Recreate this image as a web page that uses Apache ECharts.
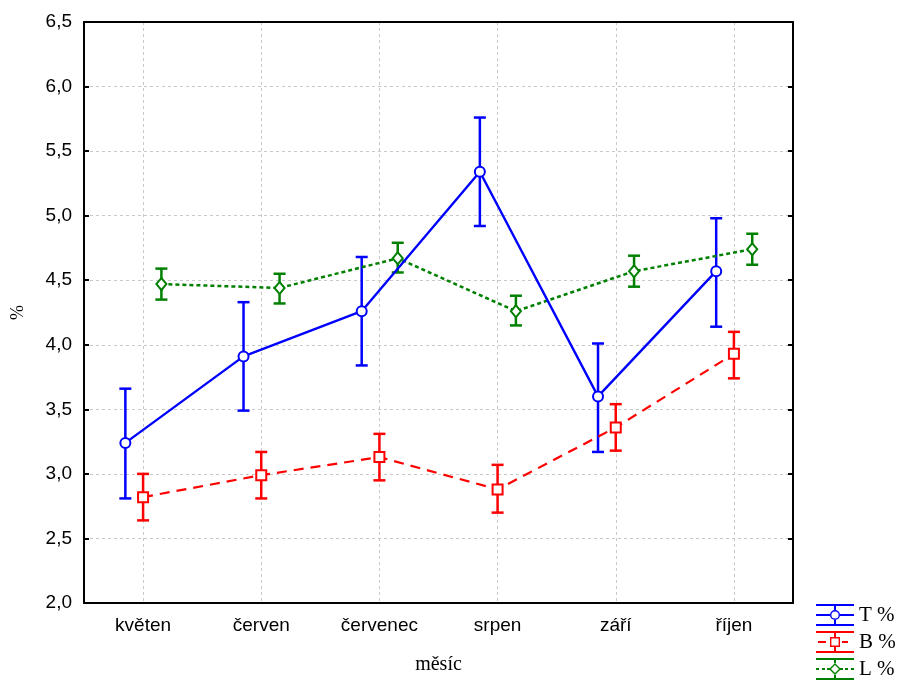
<!DOCTYPE html>
<html>
<head>
<meta charset="utf-8">
<script src="https://cdn.jsdelivr.net/npm/echarts@6/dist/echarts.min.js"></script>
<style>
  html, body { margin: 0; padding: 0; background: #fff; }
  #chart { width: 904px; height: 681px; }
</style>
</head>
<body>
<div id="chart"></div>
<script>
// měsíce a hodnoty (průměr, dolní a horní mez)
const months = ['květen', 'červen', 'červenec', 'srpen', 'září', 'říjen'];

const tMean = [3.24, 3.91, 4.26, 5.34, 3.60, 4.57];
const tLow  = [2.81, 3.49, 3.84, 4.92, 3.17, 4.14];
const tHigh = [3.66, 4.33, 4.68, 5.76, 4.01, 4.98];

const bMean = [2.82, 2.99, 3.13, 2.88, 3.36, 3.93];
const bLow  = [2.64, 2.81, 2.95, 2.70, 3.18, 3.74];
const bHigh = [3.00, 3.17, 3.31, 3.07, 3.54, 4.10];

const lMean = [4.47, 4.44, 4.67, 4.26, 4.57, 4.74];
const lLow  = [4.35, 4.32, 4.56, 4.15, 4.45, 4.62];
const lHigh = [4.59, 4.55, 4.79, 4.38, 4.69, 4.86];

const yTicks = { min: 2.0, max: 6.5, step: 0.5 };

// posun řad uvnitř kategorie (v jednotkách kategorie)
const shiftT = -0.15, shiftB = 0, shiftL = 0.155;

const pts = (vals, shift) => vals.map((v, i) => [i + shift, v]);
const bars = (lo, hi, shift) => lo.map((v, i) => [i + shift, v, hi[i]]);

function errorBarItem(params, api) {
  const x = api.value(0);
  const lo = api.coord([x, api.value(1)]);
  const hi = api.coord([x, api.value(2)]);
  const half = 6;
  const style = { stroke: api.visual('color'), lineWidth: 2.5, fill: null };
  return {
    type: 'group',
    children: [
      { type: 'line', shape: { x1: hi[0], y1: hi[1], x2: lo[0], y2: lo[1] }, style },
      { type: 'line', shape: { x1: hi[0] - half, y1: hi[1], x2: hi[0] + half, y2: hi[1] }, style },
      { type: 'line', shape: { x1: lo[0] - half, y1: lo[1], x2: lo[0] + half, y2: lo[1] }, style }
    ]
  };
}

// ikony legendy: chybová úsečka + značka
const iconT = 'path://M0,0H38V2H0Z M0,20H38V22H0Z M18,0H20V6H18Z M18,16H20V22H18Z M0,10H14V12H0Z M24,10H38V12H24Z ' +
  'M14,11A5,5 0 1,0 24,11A5,5 0 1,0 14,11Z M15.4,11A3.6,3.6 0 1,1 22.6,11A3.6,3.6 0 1,1 15.4,11Z';
const iconB = 'path://M0,0H38V2H0Z M0,20H38V22H0Z M18,0H20V6H18Z M18,16H20V22H18Z M2,10H10V12H2Z M26,10H32V12H26Z ' +
  'M14,6H24V16H14Z M15.4,7.4V14.6H22.6V7.4Z';
const iconL = 'path://M0,0H38V2H0Z M0,20H38V22H0Z M18,0H20V5H18Z M18,17H20V22H18Z ' +
  'M0,10H3V12H0Z M6,10H9V12H6Z M11,10H13.5V12H11Z M24.5,10H27V12H24.5Z M29,10H32V12H29Z M35,10H38V12H35Z ' +
  'M19,5L25,11L19,17L13,11Z M19,7L15,11L19,15L23,11Z';

const blue = '#0000ff', red = '#ff0000', green = '#008000';
const gridColor = '#c8c8c8';
const sans = 'Liberation Sans', serif = 'Liberation Serif';

const chart = echarts.init(document.getElementById('chart'));

const option = {
  backgroundColor: '#fff',
  animation: false,
  grid: { left: 84, right: 111, top: 22, bottom: 78, containLabel: false, outerBoundsMode: 'none' },
  legend: {
    orient: 'vertical',
    left: 816,
    top: 604,
    height: 110,
    padding: 0,
    itemGap: 5,
    itemWidth: 38,
    itemHeight: 22,
    itemStyle: { borderWidth: 0 },
    textStyle: { fontFamily: serif, fontSize: 21, color: '#000' },
    selectedMode: false,
    data: [
      { name: 'T %', icon: iconT, itemStyle: { color: blue } },
      { name: 'B %', icon: iconB, itemStyle: { color: red } },
      { name: 'L %', icon: iconL, itemStyle: { color: green } }
    ]
  },
  xAxis: [
    {
      type: 'category',
      data: months,
      position: 'bottom',
      boundaryGap: true,
      name: 'měsíc',
      nameLocation: 'middle',
      nameGap: 52,
      nameTextStyle: { fontFamily: serif, fontSize: 20, color: '#000' },
      axisLine: { onZero: false, lineStyle: { color: '#000', width: 2 } },
      axisTick: { inside: true, alignWithLabel: true, length: 5, lineStyle: { color: '#000', width: 2 } },
      axisLabel: { fontFamily: sans, fontSize: 19, color: '#000', margin: 13 },
      splitLine: { show: true, alignWithLabel: true, lineStyle: { color: gridColor, type: [3, 3], width: 1 } }
    },
    {
      type: 'value',
      min: -0.5,
      max: 5.5,
      show: false
    },
    {
      type: 'category',
      data: months,
      position: 'top',
      boundaryGap: true,
      axisLine: { onZero: false, lineStyle: { color: '#000', width: 2 } },
      axisTick: { inside: true, alignWithLabel: true, length: 5, lineStyle: { color: '#000', width: 2 } },
      axisLabel: { show: false },
      splitLine: { show: false }
    }
  ],
  yAxis: [
    {
      type: 'value',
      min: yTicks.min,
      max: yTicks.max,
      interval: yTicks.step,
      name: '%',
      nameLocation: 'middle',
      nameGap: 57,
      nameRotate: 90,
      nameTextStyle: { fontFamily: serif, fontSize: 18, color: '#000' },
      axisLine: { show: true, onZero: false, lineStyle: { color: '#000', width: 2 } },
      axisTick: { show: true, inside: true, length: 5, lineStyle: { color: '#000', width: 2 } },
      axisLabel: {
        fontFamily: sans, fontSize: 19, color: '#000', margin: 12,
        formatter: v => v.toFixed(1).replace('.', ',')
      },
      splitLine: { show: true, lineStyle: { color: gridColor, type: [3, 3], width: 1 } }
    },
    {
      type: 'value',
      position: 'right',
      min: yTicks.min,
      max: yTicks.max,
      interval: yTicks.step,
      axisLine: { show: true, onZero: false, lineStyle: { color: '#000', width: 2 } },
      axisTick: { show: true, inside: true, length: 5, lineStyle: { color: '#000', width: 2 } },
      axisLabel: { show: false },
      splitLine: { show: false }
    }
  ],
  series: [
    {
      name: 'L err', type: 'custom', xAxisIndex: 1, yAxisIndex: 0,
      renderItem: errorBarItem, encode: { x: 0, y: [1, 2] },
      itemStyle: { color: green }, silent: true,
      data: bars(lLow, lHigh, shiftL)
    },
    {
      name: 'L %', type: 'line', xAxisIndex: 1, yAxisIndex: 0,
      data: pts(lMean, shiftL),
      symbol: 'emptyDiamond', symbolSize: [10, 12],
      itemStyle: { color: green, borderWidth: 1.2 },
      lineStyle: { color: green, width: 2.5, type: [4, 3] },
      silent: true
    },
    {
      name: 'B err', type: 'custom', xAxisIndex: 1, yAxisIndex: 0,
      renderItem: errorBarItem, encode: { x: 0, y: [1, 2] },
      itemStyle: { color: red }, silent: true,
      data: bars(bLow, bHigh, shiftB)
    },
    {
      name: 'B %', type: 'line', xAxisIndex: 1, yAxisIndex: 0,
      data: pts(bMean, shiftB),
      symbol: 'emptyRect', symbolSize: 10,
      itemStyle: { color: red, borderWidth: 1.2 },
      lineStyle: { color: red, width: 2.2, type: [10, 7] },
      silent: true
    },
    {
      name: 'T err', type: 'custom', xAxisIndex: 1, yAxisIndex: 0,
      renderItem: errorBarItem, encode: { x: 0, y: [1, 2] },
      itemStyle: { color: blue }, silent: true,
      data: bars(tLow, tHigh, shiftT)
    },
    {
      name: 'T %', type: 'line', xAxisIndex: 1, yAxisIndex: 0,
      data: pts(tMean, shiftT),
      symbol: 'emptyCircle', symbolSize: 10,
      itemStyle: { color: blue, borderWidth: 1.2 },
      lineStyle: { color: blue, width: 2.4 },
      silent: true
    }
  ]
};

chart.setOption(option);
</script>
</body>
</html>
